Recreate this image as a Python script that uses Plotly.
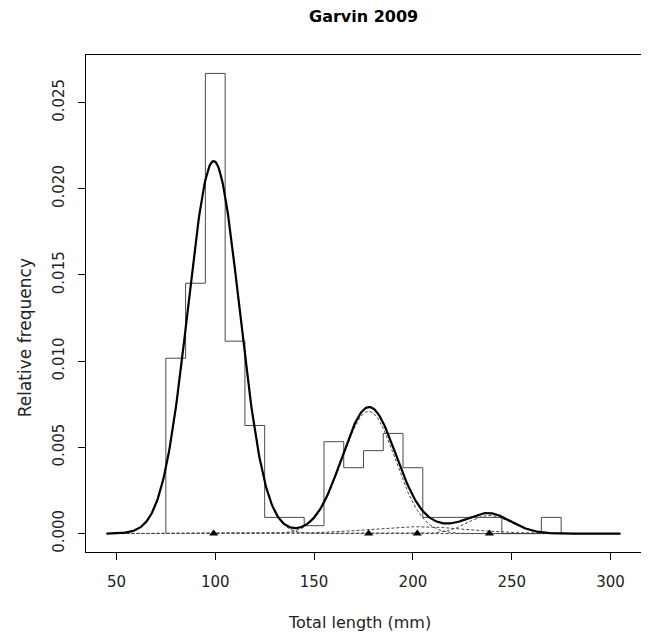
import numpy as np
import plotly.graph_objects as go

# ---- data ----
hist_left = [75, 85, 95, 105, 115, 125, 145, 155, 165, 175, 185, 195, 205, 265]
hist_right = [85, 95, 105, 115, 125, 145, 155, 165, 175, 185, 195, 205, 245, 275]
hist_density = [0.01017, 0.01452, 0.02669, 0.01116, 0.00627, 0.00094, 0.00046,
                0.00533, 0.00382, 0.00481, 0.00581, 0.00382, 0.00094, 0.00094]

comp_means = [99.2, 177.6, 202.2, 238.7]
comp_sds = [13.0, 13.5, 25.0, 11.0]
comp_props = [0.704, 0.240, 0.025, 0.029]

x_ticks = [50, 100, 150, 200, 250, 300]
y_ticks = [0.0, 0.005, 0.010, 0.015, 0.020, 0.025]
y_ticktext = ["0.000", "0.005", "0.010", "0.015", "0.020", "0.025"]

curve_from, curve_to = 45, 305

# ---- figure ----
FONT = "DejaVu Sans"
TXT = "#222222"
fig = go.Figure()

# histogram drawn as a step outline (no inner bar edges, as in the reference)
step_x, step_y = [hist_left[0]], [0]
prev_right = hist_left[0]
for l, r, d in zip(hist_left, hist_right, hist_density):
    if l != prev_right:
        step_x.append(prev_right)
        step_y.append(0)
    step_x.append(l)
    step_y.append(d)
    prev_right = r
step_x.append(prev_right)
step_y.append(0)
fig.add_trace(go.Scatter(x=step_x, y=step_y, mode="lines", line_shape="hv",
                         line=dict(color="#4a4a4a", width=1),
                         showlegend=False, hoverinfo="skip"))

xs = np.linspace(curve_from, curve_to, 521)
total = np.zeros_like(xs)
for m, s, p in zip(comp_means, comp_sds, comp_props):
    dens = p * np.exp(-0.5 * ((xs - m) / s) ** 2) / (s * np.sqrt(2 * np.pi))
    total += dens
    fig.add_trace(go.Scatter(x=xs, y=dens, mode="lines",
                             line=dict(color="#444444", width=1, dash="3px,2px"),
                             showlegend=False, hoverinfo="skip"))

fig.add_trace(go.Scatter(x=xs, y=total, mode="lines",
                         line=dict(color="black", width=2.2),
                         showlegend=False, hoverinfo="skip"))

fig.add_trace(go.Scatter(x=comp_means, y=[0] * len(comp_means), mode="markers",
                         marker=dict(symbol="triangle-up", size=8, color="black"),
                         showlegend=False, hoverinfo="skip"))

ymax = max(hist_density)
span_x = curve_to - curve_from
# the page body adds an 8px margin, so the figure is 8px smaller each way
fig.update_layout(
    width=641, height=629,
    margin=dict(l=78, r=8, t=47, b=85),
    paper_bgcolor="white", plot_bgcolor="white",
    font=dict(family=FONT, size=15, color=TXT),
    xaxis=dict(range=[curve_from - 0.04 * span_x, curve_to + 0.04 * span_x],
               tickvals=x_ticks, ticks="outside", ticklen=7, tickcolor="black",
               showline=True, linecolor="black", linewidth=1, mirror=True,
               showgrid=False, zeroline=False, ticklabelstandoff=9,
               tickfont=dict(family=FONT, size=15, color=TXT)),
    yaxis=dict(range=[-0.04 * ymax, 1.04 * ymax],
               tickvals=y_ticks, ticktext=y_ticktext, tickangle=-90,
               ticks="outside", ticklen=7, tickcolor="black",
               showline=True, linecolor="black", linewidth=1, mirror=True,
               showgrid=False, zeroline=False, ticklabelstandoff=8,
               tickfont=dict(family=FONT, size=15, color=TXT)),
    annotations=[
        dict(text="<b>Garvin 2009</b>", xref="paper", yref="paper", x=0.5, y=1,
             yshift=39, showarrow=False, xanchor="center", yanchor="middle",
             font=dict(family=FONT, size=16, color="black")),
        dict(text="Total length (mm)", xref="paper", yref="paper", x=0.492, y=0,
             yshift=-70, showarrow=False, xanchor="center", yanchor="middle",
             font=dict(family=FONT, size=16, color=TXT)),
        dict(text="Relative frequency", xref="paper", yref="paper", x=0, y=0.43,
             xshift=-61, showarrow=False, xanchor="center", yanchor="middle",
             textangle=-90, font=dict(family=FONT, size=17, color=TXT)),
    ],
)

fig.write_html("out.html")
